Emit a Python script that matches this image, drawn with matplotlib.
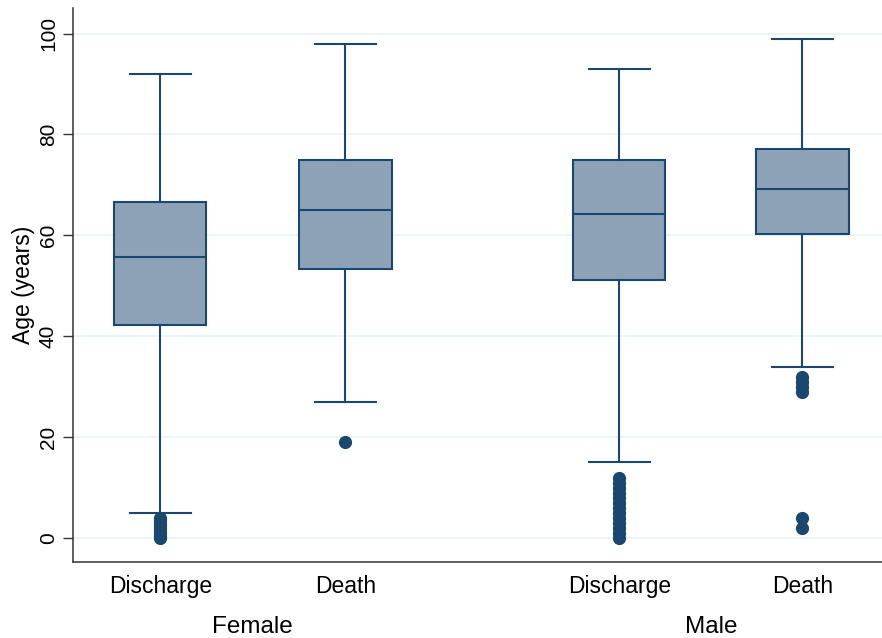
import matplotlib.pyplot as plt

plt.rcParams['font.family'] = ['Liberation Sans', 'DejaVu Sans']

# box statistics (age in years)
groups = ["Female", "Male"]
labels = ["Discharge", "Death", "Discharge", "Death"]
positions = [1.0, 2.0, 3.48, 4.47]
whislo = [5, 27, 15, 34]
q1 = [42.2, 53.3, 51.1, 60.2]
med = [55.8, 65.0, 64.2, 69.1]
q3 = [66.7, 74.9, 74.9, 77.2]
whishi = [92, 98, 93, 99]
fliers = [
    [0, 0.5, 1, 1.5, 2, 2.5, 3, 3.5, 4],
    [19],
    [0, 1, 2, 3, 4, 5, 6, 7, 8, 9, 10, 11, 12],
    [29, 30, 31, 32, 4, 2],
]

navy = "#1a476f"
fill = "#8da2b7"

stats = []
for i in range(len(labels)):
    stats.append(dict(whislo=whislo[i], q1=q1[i], med=med[i], q3=q3[i],
                      whishi=whishi[i], fliers=fliers[i], label=labels[i]))

fig = plt.figure(figsize=(8.82, 6.38), dpi=100)
ax = fig.add_axes([0.083, 0.119, 0.917, 0.868])

ax.bxp(stats, positions=positions, widths=0.5, patch_artist=True,
       boxprops=dict(facecolor=fill, edgecolor=navy, linewidth=1.5),
       medianprops=dict(color=navy, linewidth=1.5),
       whiskerprops=dict(color=navy, linewidth=1.5),
       capprops=dict(color=navy, linewidth=1.5),
       capwidths=0.33,
       flierprops=dict(marker='o', markerfacecolor=navy, markeredgecolor=navy,
                       markersize=8.5))

ax.set_xlim(0.53, 4.9)
ax.set_ylim(-4.75, 105)
ax.set_yticks([0, 20, 40, 60, 80, 100])
ax.tick_params(axis='y', labelsize=15, length=7, width=1, color='#333333',
               labelrotation=90, pad=4)
for t in ax.get_yticklabels():
    t.set_va('center')
ax.tick_params(axis='x', labelsize=16.5, length=0, pad=9)
ax.set_xticks(positions)
ax.set_xticklabels(labels)
ax.yaxis.grid(True, color='#eaf2f3', linewidth=1.2)
ax.set_axisbelow(True)
ax.set_ylabel("Age (years)", fontsize=16.5, labelpad=3)

for s in ['top', 'right']:
    ax.spines[s].set_visible(False)
for s in ['left', 'bottom']:
    ax.spines[s].set_color('#333333')
    ax.spines[s].set_linewidth(1.1)

# group labels under the category labels
ax.text((positions[0] + positions[1]) / 2, -0.117, groups[0], fontsize=17.5,
        ha='center', va='center', transform=ax.get_xaxis_transform())
ax.text((positions[2] + positions[3]) / 2, -0.117, groups[1], fontsize=17.5,
        ha='center', va='center', transform=ax.get_xaxis_transform())

plt.savefig("out.png", dpi=100)
